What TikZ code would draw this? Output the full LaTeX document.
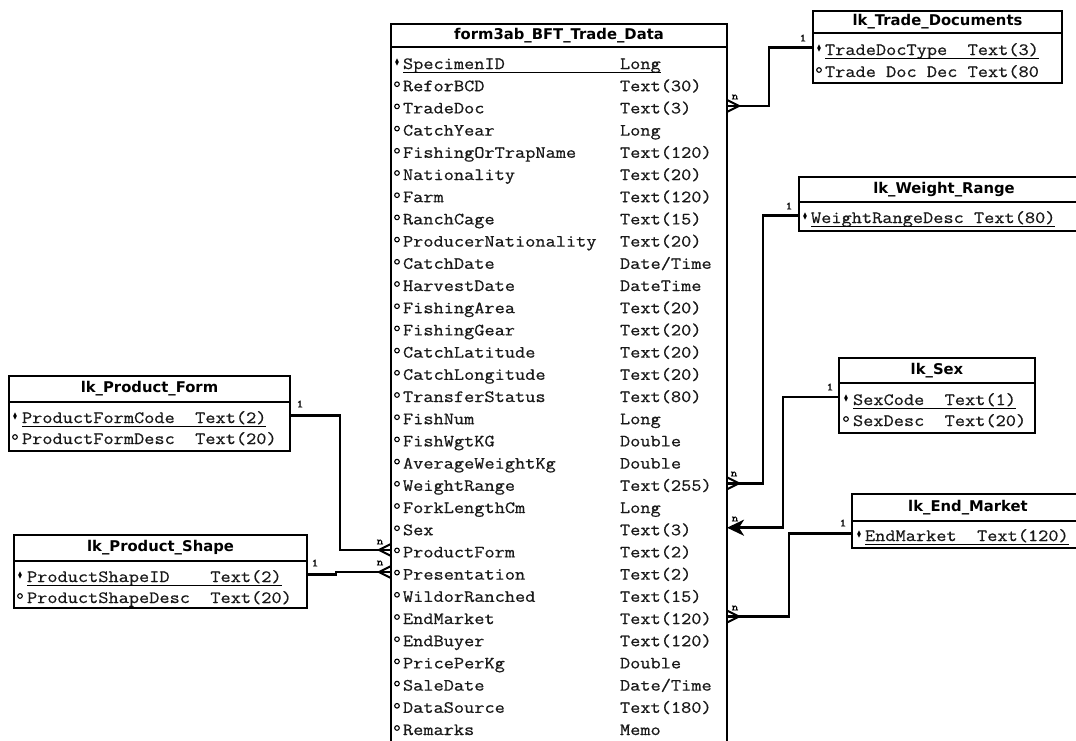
\documentclass[tikz,border=0pt]{standalone}
\usepackage{fontspec}
\setmonofont{Latin Modern Mono}[FakeStretch=1.15, FakeBold=0.6]
\newfontfamily\hdrfont{DejaVu Sans}
\usetikzlibrary{arrows.meta,calc}
\newcommand\dtm{Date/Time}
\begin{document}
\begin{tikzpicture}[x=1pt,y=-1pt,
  tbl/.style={draw=black, line width=2.6pt, inner sep=0pt, outer sep=0pt, anchor=north west},
  hdr/.style={font=\hdrfont\bfseries\fontsize{14.8}{17}\selectfont, inner sep=0pt, text=black},
  row/.style={font=\ttfamily\fontsize{17.2}{20}\selectfont, inner sep=0pt, outer sep=0pt, anchor=west, text height=10pt, text depth=0pt, text=black!90},
  uline/.style={line width=1.3pt},
  conn/.style={line width=2.6pt},
  crow/.style={line width=2pt},
  card/.style={font=\ttfamily\fontsize{11}{12}\selectfont, inner sep=0pt},
  kmark/.pic={\fill (-1.8,0) -- (0,-3.6) -- (1.8,0) -- (0,3.6) -- cycle;},
  omark/.pic={\draw[line width=1.1pt] (0,0) circle (2.3);},
  crowR/.pic={\draw[crow] (0,-6) -- (12,0) -- (0,6);},
  crowL/.pic={\draw[crow] (0,-6) -- (-12,0) -- (0,6);}
]
\fill[white] (0,0) rectangle (1076,740);
\useasboundingbox (0,0) rectangle (1076,740);
\clip (0,0) rectangle (1076,740);

% ---------- main table ----------
\node[tbl, minimum width=336pt, minimum height=23pt] (main-h) at (391,24) {};
\node[tbl, minimum width=336pt, minimum height=740pt] (main) at (391,47) {};
\node[hdr] (main-t) at (main-h.center) {form3ab\_BFT\_Trade\_Data};

\node[row] (r-SpecimenID) at (403,64) {SpecimenID};
\node[row] (t-SpecimenID) at (620,64) {Long};
\pic at (397,62) {kmark};
\draw[uline] ($(r-SpecimenID.south west)+(0,3.5)$) -- ($(t-SpecimenID.south east)+(0,3.5)$);

\foreach \n/\t [count=\i from 1] in {ReforBCD/Text(30), TradeDoc/Text(3), CatchYear/Long,
  FishingOrTrapName/Text(120), Nationality/Text(20), Farm/Text(120), RanchCage/Text(15),
  ProducerNationality/Text(20), CatchDate/\dtm, HarvestDate/DateTime, FishingArea/Text(20),
  FishingGear/Text(20), CatchLatitude/Text(20), CatchLongitude/Text(20), TransferStatus/Text(80),
  FishNum/Long, FishWgtKG/Double, AverageWeightKg/Double, WeightRange/Text(255),
  ForkLengthCm/Long, Sex/Text(3), ProductForm/Text(2), Presentation/Text(2),
  WildorRanched/Text(15), EndMarket/Text(120), EndBuyer/Text(120), PricePerKg/Double,
  SaleDate/\dtm, DataSource/Text(180), Remarks/Memo} {
  \pgfmathsetmacro\yy{64+22.2*\i}
  \node[row] (r-\n) at (403,\yy) {\n};
  \node[row] (t-\n) at (620,\yy) {\t};
  \pic at (397,\yy-2) {omark};
}

% ---------- lk_Trade_Documents ----------
\node[tbl, minimum width=249pt, minimum height=22pt] (tdoc-h) at (813,11) {};
\node[tbl, minimum width=249pt, minimum height=50pt] (tdoc) at (813,33) {};
\node[hdr] (tdoc-t) at (tdoc-h.center) {lk\_Trade\_Documents};
\node[row] (tdoc-1) at (825,50) {TradeDocType~~Text(3)};
\node[row] (tdoc-2) at (825,72) {Trade~Doc~Dec~Text(80};
\pic at (819,48) {kmark};
\pic at (819,70) {omark};
\draw[uline] ($(tdoc-1.south west)+(0,3.5)$) -- ($(tdoc-1.south east)+(0,3.5)$);

% ---------- lk_Weight_Range ----------
\node[tbl, minimum width=290pt, minimum height=25pt] (wr-h) at (799,177) {};
\node[tbl, minimum width=290pt, minimum height=29pt] (wr) at (799,202) {};
\node[hdr] (wr-t) at (wr-h.center) {lk\_Weight\_Range};
\node[row] (wr-1) at (811,218) {WeightRangeDesc~Text(80)};
\pic at (805,216) {kmark};
\draw[uline] ($(wr-1.south west)+(0,3.5)$) -- ($(wr-1.south east)+(0,3.5)$);

% ---------- lk_Sex ----------
\node[tbl, minimum width=196pt, minimum height=25pt] (sex-h) at (839,358) {};
\node[tbl, minimum width=196pt, minimum height=50pt] (sex) at (839,383) {};
\node[hdr] (sex-t) at (sex-h.center) {lk\_Sex};
\node[row] (sex-1) at (853,400) {SexCode~~Text(1)};
\node[row] (sex-2) at (853,421) {SexDesc~~Text(20)};
\pic at (846,398) {kmark};
\pic at (846,419) {omark};
\draw[uline] ($(sex-1.south west)+(0,3.5)$) -- ($(sex-1.south east)+(0,3.5)$);

% ---------- lk_End_Market ----------
\node[tbl, minimum width=232pt, minimum height=27pt] (em-h) at (852,494) {};
\node[tbl, minimum width=232pt, minimum height=27pt] (em) at (852,521) {};
\node[hdr] (em-t) at (em-h.center) {lk\_End\_Market};
\node[row] (em-1) at (865,536) {EndMarket~~Text(120)};
\pic at (859,534) {kmark};
\draw[uline] ($(em-1.south west)+(0,3.5)$) -- ($(em-1.south east)+(0,3.5)$);

% ---------- lk_Product_Form ----------
\node[tbl, minimum width=281pt, minimum height=26pt] (pf-h) at (9,376) {};
\node[tbl, minimum width=281pt, minimum height=49pt] (pf) at (9,402) {};
\node[hdr] (pf-t) at (pf-h.center) {lk\_Product\_Form};
\node[row] (pf-1) at (22,418) {ProductFormCode~~Text(2)};
\node[row] (pf-2) at (22,439) {ProductFormDesc~~Text(20)};
\pic at (15,416) {kmark};
\pic at (15,437) {omark};
\draw[uline] ($(pf-1.south west)+(0,3.5)$) -- ($(pf-1.south east)+(0,3.5)$);

% ---------- lk_Product_Shape ----------
\node[tbl, minimum width=293pt, minimum height=26pt] (ps-h) at (14,535) {};
\node[tbl, minimum width=293pt, minimum height=47pt] (ps) at (14,561) {};
\node[hdr] (ps-t) at (ps-h.center) {lk\_Product\_Shape};
\node[row] (ps-1) at (27,577) {ProductShapeID~~~~Text(2)};
\node[row] (ps-2) at (27,598) {ProductShapeDesc~~Text(20)};
\pic at (20,575) {kmark};
\pic at (20,596) {omark};
\draw[uline] ($(ps-1.south west)+(0,3.5)$) -- ($(ps-1.south east)+(0,3.5)$);

% ---------- connectors ----------
\coordinate (a1) at ($(tdoc.west |- tdoc-1)+(0,-2.5)$);
\coordinate (b1) at ($(main.east |- r-TradeDoc)+(0,-2.5)$);
\draw[conn] (a1) -- ++(-44,0) |- (b1);
\pic at (b1) {crowR};

\coordinate (a2) at ($(wr.west |- wr-1)+(0,-2.5)$);
\coordinate (b2) at ($(main.east |- r-WeightRange)+(0,-2.5)$);
\draw[conn] (a2) -- ++(-36,0) |- (b2);
\pic at (b2) {crowR};

\coordinate (a3) at ($(sex.west |- sex-1)+(0,-3)$);
\coordinate (b3) at ($(main.east |- r-Sex)+(0,-2.5)$);
\draw[conn, -{Stealth[length=17pt, width=16pt, inset=5pt]}] (a3) -- ++(-56,0) |- (b3);

\coordinate (a4) at ($(em.west |- em-1)+(0,-2.5)$);
\coordinate (b4) at ($(main.east |- r-EndMarket)+(0,-2.5)$);
\draw[conn] (a4) -- ++(-63,0) |- (b4);
\pic at (b4) {crowR};

\coordinate (a5) at ($(pf.east |- pf-1)+(0,-2.5)$);
\coordinate (b5) at ($(main.west |- r-ProductForm)+(0,-2.5)$);
\draw[conn] (a5) -- ++(50,0) |- (b5);
\pic at (b5) {crowL};

\coordinate (a6) at ($(ps.east |- ps-1)+(0,-2.5)$);
\coordinate (b6) at ($(main.west |- r-Presentation)+(0,-2.5)$);
\draw[conn] (a6) -- ++(29,0) |- (b6);
\pic at (b6) {crowL};

% ---------- cardinality labels ----------
\node[card] (c1) at (803,38) {1};
\node[card] (n1) at (735,97) {n};
\node[card] (c2) at (789,206) {1};
\node[card] (n2) at (734,474) {n};
\node[card] (c3) at (830,387) {1};
\node[card] (n3) at (735,519) {n};
\node[card] (c4) at (843,523) {1};
\node[card] (n4) at (735,608) {n};
\node[card] (c5) at (300,404) {1};
\node[card] (n5) at (380,542) {n};
\node[card] (c6) at (315,563) {1};
\node[card] (n6) at (380,563) {n};
\end{tikzpicture}
\end{document}
